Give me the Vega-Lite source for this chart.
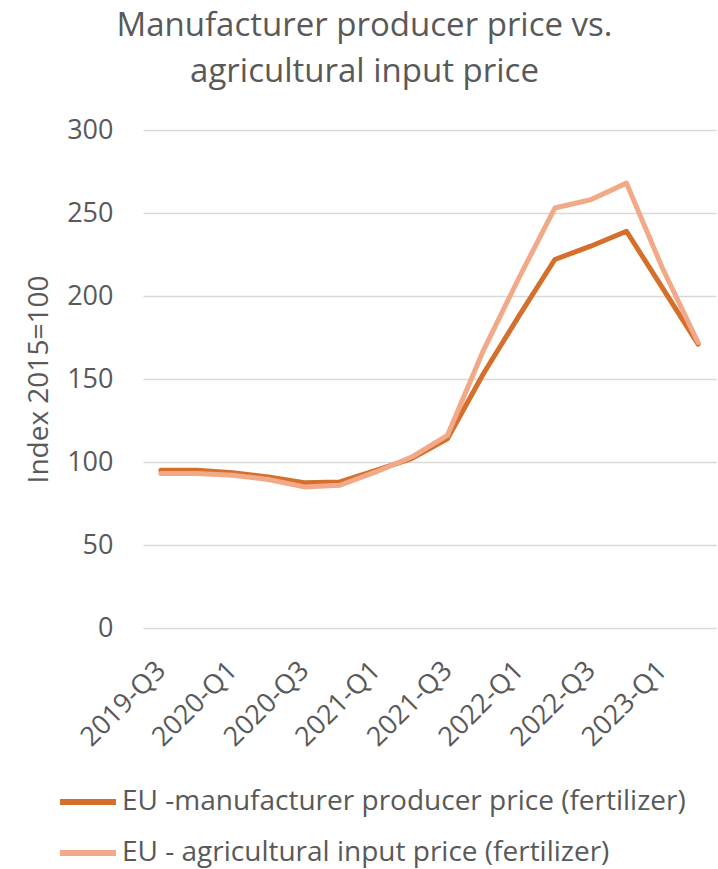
{
  "$schema": "https://vega.github.io/schema/vega-lite/v6.json",
  "width": 573,
  "height": 498,
  "autosize": "none",
  "padding": {"left": 143, "top": 130, "right": 2, "bottom": 241},
  "background": "white",
  "title": {
    "text": ["Manufacturer producer price vs.", "agricultural input price"],
    "font": "Open Sans",
    "fontSize": 33,
    "fontWeight": "normal",
    "color": "#595959",
    "anchor": "middle",
    "frame": "group",
    "dx": -65,
    "lineHeight": 46,
    "offset": 27
  },
  "data": {
    "values": [
      {"quarter": "2019-Q3", "series": "EU -manufacturer producer price (fertilizer)", "value": 95},
      {"quarter": "2019-Q4", "series": "EU -manufacturer producer price (fertilizer)", "value": 95},
      {"quarter": "2020-Q1", "series": "EU -manufacturer producer price (fertilizer)", "value": 93.5},
      {"quarter": "2020-Q2", "series": "EU -manufacturer producer price (fertilizer)", "value": 91},
      {"quarter": "2020-Q3", "series": "EU -manufacturer producer price (fertilizer)", "value": 87.5},
      {"quarter": "2020-Q4", "series": "EU -manufacturer producer price (fertilizer)", "value": 88},
      {"quarter": "2021-Q1", "series": "EU -manufacturer producer price (fertilizer)", "value": 95},
      {"quarter": "2021-Q2", "series": "EU -manufacturer producer price (fertilizer)", "value": 102},
      {"quarter": "2021-Q3", "series": "EU -manufacturer producer price (fertilizer)", "value": 114},
      {"quarter": "2021-Q4", "series": "EU -manufacturer producer price (fertilizer)", "value": 153},
      {"quarter": "2022-Q1", "series": "EU -manufacturer producer price (fertilizer)", "value": 188},
      {"quarter": "2022-Q2", "series": "EU -manufacturer producer price (fertilizer)", "value": 222},
      {"quarter": "2022-Q3", "series": "EU -manufacturer producer price (fertilizer)", "value": 230},
      {"quarter": "2022-Q4", "series": "EU -manufacturer producer price (fertilizer)", "value": 239},
      {"quarter": "2023-Q1", "series": "EU -manufacturer producer price (fertilizer)", "value": 205},
      {"quarter": "2023-Q2", "series": "EU -manufacturer producer price (fertilizer)", "value": 171},
      {"quarter": "2019-Q3", "series": "EU - agricultural input price (fertilizer)", "value": 93},
      {"quarter": "2019-Q4", "series": "EU - agricultural input price (fertilizer)", "value": 93},
      {"quarter": "2020-Q1", "series": "EU - agricultural input price (fertilizer)", "value": 92},
      {"quarter": "2020-Q2", "series": "EU - agricultural input price (fertilizer)", "value": 89.5},
      {"quarter": "2020-Q3", "series": "EU - agricultural input price (fertilizer)", "value": 85},
      {"quarter": "2020-Q4", "series": "EU - agricultural input price (fertilizer)", "value": 86},
      {"quarter": "2021-Q1", "series": "EU - agricultural input price (fertilizer)", "value": 94},
      {"quarter": "2021-Q2", "series": "EU - agricultural input price (fertilizer)", "value": 103},
      {"quarter": "2021-Q3", "series": "EU - agricultural input price (fertilizer)", "value": 116},
      {"quarter": "2021-Q4", "series": "EU - agricultural input price (fertilizer)", "value": 167},
      {"quarter": "2022-Q1", "series": "EU - agricultural input price (fertilizer)", "value": 211},
      {"quarter": "2022-Q2", "series": "EU - agricultural input price (fertilizer)", "value": 253},
      {"quarter": "2022-Q3", "series": "EU - agricultural input price (fertilizer)", "value": 258},
      {"quarter": "2022-Q4", "series": "EU - agricultural input price (fertilizer)", "value": 268},
      {"quarter": "2023-Q1", "series": "EU - agricultural input price (fertilizer)", "value": 217},
      {"quarter": "2023-Q2", "series": "EU - agricultural input price (fertilizer)", "value": 172}
    ]
  },
  "encoding": {
    "x": {
      "field": "quarter",
      "type": "ordinal",
      "sort": null,
      "scale": {"padding": 0.5},
      "axis": {
        "title": null,
        "values": ["2019-Q3", "2020-Q1", "2020-Q3", "2021-Q1", "2021-Q3", "2022-Q1", "2022-Q3", "2023-Q1"],
        "labelAngle": -45,
        "labelAlign": "right",
        "labelBaseline": "middle",
        "labelPadding": 38,
        "labelFont": "Open Sans",
        "labelFontSize": 27,
        "labelColor": "#595959",
        "labelOverlap": false,
        "domain": false,
        "ticks": false,
        "grid": false
      }
    },
    "y": {
      "field": "value",
      "type": "quantitative",
      "scale": {"domain": [0, 300], "nice": false},
      "axis": {
        "title": "Index 2015=100",
        "titleFont": "Open Sans",
        "titleFontSize": 28,
        "titleFontWeight": "normal",
        "titleColor": "#595959",
        "titlePadding": 13,
        "values": [0, 50, 100, 150, 200, 250, 300],
        "labelFont": "Open Sans",
        "labelFontSize": 27,
        "labelColor": "#595959",
        "labelPadding": 30,
        "domain": false,
        "ticks": false,
        "grid": true,
        "gridColor": "#d9d9d9",
        "gridWidth": 1.5
      }
    },
    "color": {
      "field": "series",
      "type": "nominal",
      "scale": {
        "domain": ["EU -manufacturer producer price (fertilizer)", "EU - agricultural input price (fertilizer)"],
        "range": ["#D4702C", "#F2A988"]
      },
      "legend": {
        "title": null,
        "orient": "none",
        "legendX": -86,
        "legendY": 641,
        "direction": "vertical",
        "padding": 0,
        "symbolType": "stroke",
        "symbolSize": 3136,
        "symbolStrokeWidth": 6,
        "labelFont": "Open Sans",
        "labelFontSize": 28,
        "labelColor": "#595959",
        "labelOffset": 3,
        "labelLimit": 700,
        "rowPadding": 6
      }
    }
  },
  "layer": [
    {
      "transform": [{"filter": "datum.series === 'EU -manufacturer producer price (fertilizer)'"}],
      "mark": {"type": "line", "strokeWidth": 5, "strokeCap": "round", "strokeJoin": "round"}
    },
    {
      "transform": [{"filter": "datum.series === 'EU - agricultural input price (fertilizer)'"}],
      "mark": {"type": "line", "strokeWidth": 5, "strokeCap": "round", "strokeJoin": "round"}
    }
  ],
  "config": {"view": {"stroke": null}}
}
